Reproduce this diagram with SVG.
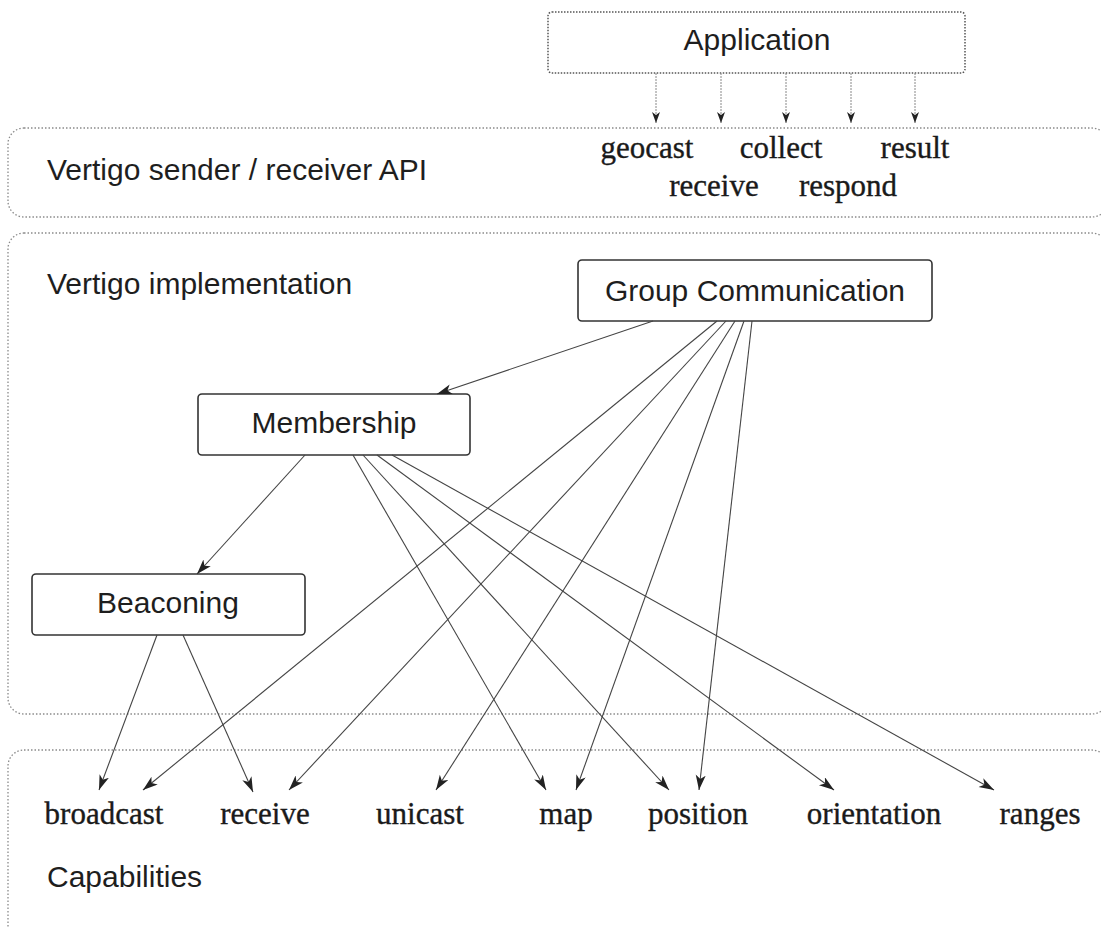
<svg xmlns="http://www.w3.org/2000/svg" width="1101" height="927" viewBox="0 0 1101 927">
<style>
.panel{fill:none;stroke:#8a8a8a;stroke-width:1.3;stroke-dasharray:1.5 2}
.node{fill:#fff;stroke:#333;stroke-width:1.6}
.sans{font-family:"Liberation Sans",Arial,sans-serif;font-size:30px;fill:#1e1e1e}
.serif{font-family:"Liberation Serif","Times New Roman",serif;font-size:31px;fill:#1a1a1a;stroke:#1a1a1a;stroke-width:0.35}
.mid{text-anchor:middle}
.edge{stroke:#444;stroke-width:1.1;fill:none;marker-end:url(#arr)}
.edge2{stroke:#888;stroke-width:1;stroke-dasharray:2 1;fill:none;marker-end:url(#arr2)}
</style>
<defs>
<marker id="arr" markerUnits="userSpaceOnUse" markerWidth="16" markerHeight="12" refX="15" refY="5" orient="auto">
<path d="M0,0 L15,5 L0,10 L4,5 Z" fill="#222"/>
</marker>
<marker id="arr2" markerUnits="userSpaceOnUse" markerWidth="12" markerHeight="10" refX="11" refY="4" orient="auto">
<path d="M0,0 L11,4 L0,8 L3,4 Z" fill="#222"/>
</marker>
</defs>
<rect width="1101" height="927" fill="#fff"/>

<g id="panel-api">
<rect class="panel" x="8" y="128" width="1100" height="89" rx="16"/>
<text class="sans" x="47" y="180">Vertigo sender / receiver API</text>
<text class="serif mid" x="647" y="158">geocast</text>
<text class="serif mid" x="781" y="158">collect</text>
<text class="serif mid" x="915" y="158">result</text>
<text class="serif mid" x="714" y="196">receive</text>
<text class="serif mid" x="848" y="196">respond</text>
</g>

<g id="panel-impl">
<rect class="panel" x="8" y="233" width="1100" height="481" rx="16"/>
<text class="sans" x="47" y="294">Vertigo implementation</text>
</g>

<g id="panel-cap">
<rect class="panel" x="8" y="750" width="1100" height="195" rx="16"/>
<text class="sans" x="47" y="887">Capabilities</text>
<text class="serif mid" x="104" y="824">broadcast</text>
<text class="serif mid" x="265" y="824">receive</text>
<text class="serif mid" x="420" y="824">unicast</text>
<text class="serif mid" x="566" y="824">map</text>
<text class="serif mid" x="698" y="824">position</text>
<text class="serif mid" x="874" y="824">orientation</text>
<text class="serif mid" x="1040" y="824">ranges</text>
</g>

<g id="application">
<rect x="548" y="12" width="417" height="61" rx="4" fill="#fff" stroke="#555" stroke-width="1.5" stroke-dasharray="1.5 1.5"/>
<text class="sans mid" x="757" y="50">Application</text>
</g>

<g id="group-communication">
<rect class="node" x="578" y="260" width="354" height="61" rx="4"/>
<text class="sans mid" x="755" y="301">Group Communication</text>
</g>

<g id="membership">
<rect class="node" x="198" y="394" width="272" height="61" rx="4"/>
<text class="sans mid" x="334" y="433">Membership</text>
</g>

<g id="beaconing">
<rect class="node" x="32" y="574" width="273" height="61" rx="4"/>
<text class="sans mid" x="168" y="613">Beaconing</text>
</g>

<g id="connectors">
<line class="edge2" x1="656" y1="73" x2="656" y2="123"/>
<line class="edge2" x1="721" y1="73" x2="721" y2="123"/>
<line class="edge2" x1="786" y1="73" x2="786" y2="123"/>
<line class="edge2" x1="851" y1="73" x2="851" y2="123"/>
<line class="edge2" x1="915" y1="73" x2="915" y2="123"/>

<line class="edge" x1="653" y1="321" x2="437" y2="394"/>
<line class="edge" x1="717" y1="321" x2="143" y2="790"/>
<line class="edge" x1="726" y1="321" x2="289" y2="790"/>
<line class="edge" x1="735" y1="321" x2="436" y2="790"/>
<line class="edge" x1="744" y1="321" x2="576" y2="790"/>
<line class="edge" x1="752" y1="321" x2="699" y2="790"/>

<line class="edge" x1="305" y1="455" x2="197" y2="574"/>
<line class="edge" x1="353" y1="455" x2="546" y2="790"/>
<line class="edge" x1="363" y1="455" x2="669" y2="790"/>
<line class="edge" x1="377" y1="455" x2="834" y2="790"/>
<line class="edge" x1="392" y1="455" x2="994" y2="790"/>

<line class="edge" x1="157" y1="635" x2="99" y2="790"/>
<line class="edge" x1="183" y1="635" x2="253" y2="792"/>
</g>
</svg>
